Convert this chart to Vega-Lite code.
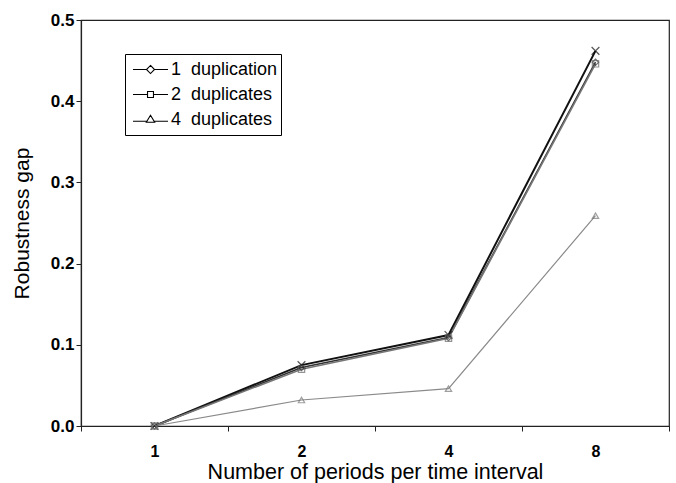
{
  "$schema": "https://vega.github.io/schema/vega-lite/v6.json",
  "width": 588,
  "height": 406,
  "autosize": {"type": "none"},
  "padding": {"left": 81, "top": 20, "right": 7, "bottom": 57},
  "background": "white",
  "config": {
    "font": "Liberation Sans",
    "view": {"stroke": "#222", "strokeWidth": 1.2},
    "axis": {"domainColor": "#222", "tickColor": "#222", "grid": false, "labelColor": "#000", "titleColor": "#000", "titleFontWeight": "normal"}
  },
  "data": {
    "values": [
      {"periods": "1", "series": "base", "gap": 0.0},
      {"periods": "2", "series": "base", "gap": 0.075},
      {"periods": "4", "series": "base", "gap": 0.112},
      {"periods": "8", "series": "base", "gap": 0.462},
      {"periods": "1", "series": "1 duplication", "gap": 0.0},
      {"periods": "2", "series": "1 duplication", "gap": 0.072},
      {"periods": "4", "series": "1 duplication", "gap": 0.109},
      {"periods": "8", "series": "1 duplication", "gap": 0.448},
      {"periods": "1", "series": "2 duplicates", "gap": 0.0},
      {"periods": "2", "series": "2 duplicates", "gap": 0.070},
      {"periods": "4", "series": "2 duplicates", "gap": 0.108},
      {"periods": "8", "series": "2 duplicates", "gap": 0.446},
      {"periods": "1", "series": "4 duplicates", "gap": 0.0},
      {"periods": "2", "series": "4 duplicates", "gap": 0.032},
      {"periods": "4", "series": "4 duplicates", "gap": 0.046},
      {"periods": "8", "series": "4 duplicates", "gap": 0.259}
    ]
  },
  "encoding": {
    "x": {
      "field": "periods", "type": "ordinal", "sort": ["1", "2", "4", "8"],
      "scale": {"type": "band", "paddingInner": 0, "paddingOuter": 0},
      "axis": {"title": "Number of periods per time interval", "labelAngle": 0, "tickBand": "extent", "tickSize": 5, "labelFontSize": 16, "labelFontWeight": "bold", "labelPadding": 12, "titleFontSize": 21.5, "titlePadding": 2, "domainWidth": 1.2}
    },
    "y": {
      "field": "gap", "type": "quantitative",
      "scale": {"domain": [0, 0.5], "nice": false, "zero": true},
      "axis": {"title": "Robustness gap", "values": [0, 0.1, 0.2, 0.3, 0.4, 0.5], "format": ".1f", "tickSize": 5, "labelFontSize": 17, "labelFontWeight": "bold", "labelPadding": 2, "titleFontSize": 21, "titlePadding": 18, "domainWidth": 1.2}
    }
  },
  "resolve": {"scale": {"shape": "independent"}, "legend": {"shape": "independent"}},
  "layer": [
    {
      "mark": {"type": "line"},
      "encoding": {
        "detail": {"field": "series"},
        "stroke": {"condition": [
          {"test": "datum.series === 'base'", "value": "#111111"},
          {"test": "datum.series === '1 duplication'", "value": "#333333"},
          {"test": "datum.series === '2 duplicates'", "value": "#777777"}
        ], "value": "#8a8a8a"},
        "strokeWidth": {"condition": [
          {"test": "datum.series === 'base'", "value": 2},
          {"test": "datum.series === '4 duplicates'", "value": 1.2}
        ], "value": 1.6},
        "order": {"field": "periods"}
      }
    },
    {
      "mark": {"type": "point", "filled": false, "fill": "transparent", "strokeWidth": 1.2, "size": 40},
      "encoding": {
        "stroke": {"condition": [
          {"test": "datum.series === 'base'", "value": "#111111"},
          {"test": "datum.series === '1 duplication'", "value": "#333333"},
          {"test": "datum.series === '2 duplicates'", "value": "#666666"}
        ], "value": "#777777"},
        "size": {"condition": {"test": "datum.series === 'base'", "value": 60}, "value": 40},
        "shape": {
          "field": "series", "type": "nominal",
          "scale": {"domain": ["base", "1 duplication", "2 duplicates", "4 duplicates"], "range": ["M-1,-1L1,1M-1,1L1,-1", "diamond", "square", "triangle-up"]},
          "legend": null
        }
      }
    },
    {
      "mark": {"type": "point", "filled": false, "opacity": 0},
      "encoding": {
        "shape": {
          "field": "series", "type": "nominal",
          "scale": {"domain": ["1 duplication", "2 duplicates", "4 duplicates", "base"], "range": [
            "M-1,0H-0.23M0.23,0H1M0,-0.23L0.23,0L0,0.23L-0.23,0Z",
            "M-1,0H-0.17M0.17,0H1M-0.17,-0.17H0.17V0.17H-0.17Z",
            "M-1,0.1H-0.22M0.22,0.1H1M0,-0.24L0.24,0.16H-0.24Z",
            "M-1,0H1"
          ]},
          "legend": {
            "title": null,
            "values": ["1 duplication", "2 duplicates", "4 duplicates"],
            "orient": "none", "legendX": 44, "legendY": 34,
            "strokeColor": "#000", "padding": 3, "fillColor": "white",
            "symbolSize": 1225, "symbolOpacity": 1, "symbolStrokeColor": "#000", "symbolFillColor": "white", "symbolStrokeWidth": 1.1,
            "symbolOffset": 4,
            "clipHeight": 25,
            "labelFontSize": 18, "labelColor": "#000", "labelOffset": 2, "rowPadding": 0,
            "labelExpr": "replace(datum.label, ' ', '\u00a0\u00a0') + '\u00a0\u00a0\u00a0'"
          }
        }
      }
    }
  ]
}
